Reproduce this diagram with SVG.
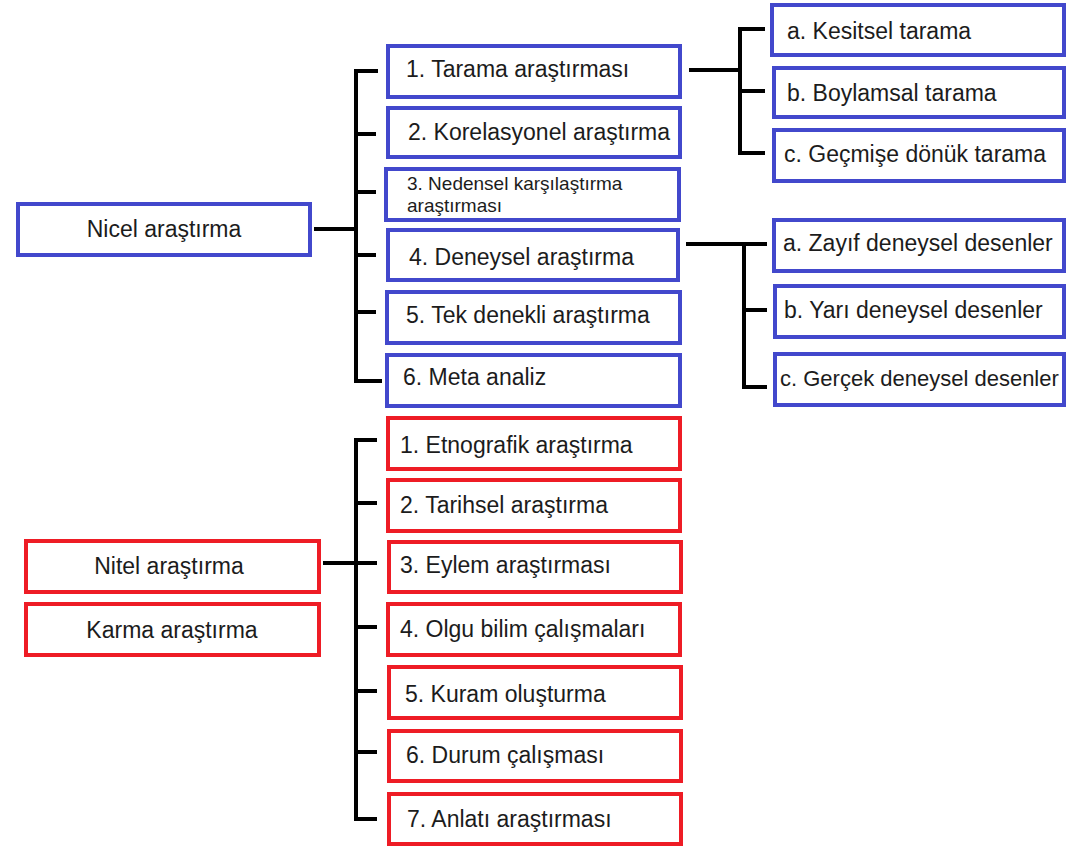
<svg xmlns="http://www.w3.org/2000/svg" width="1067" height="846" viewBox="0 0 1067 846">
<style>
.b{fill:#fff;stroke:#4248CC;stroke-width:4}
.r{fill:#fff;stroke:#EE1C25;stroke-width:4}
text{font-family:"Liberation Sans",Arial,sans-serif;font-size:23px;fill:#1c1c1c}
.c{text-anchor:middle}
.s{font-size:19px}
.con{fill:none;stroke:#000;stroke-width:4}
</style>
<rect width="1067" height="846" fill="#fff"/>
<g id="connectors">
<path class="con" d="M314,229H356M378,71H356V381H382M356,134H376M356,192H376M356,255H376M356,312H376"/>
<path class="con" d="M689,70H740M765,29H740V153H765M740,91H765"/>
<path class="con" d="M686,244H767M744,244V387H767M744,310H767"/>
<path class="con" d="M323,563H356M377,440H356V819H377M356,503H377M356,563H377M356,627H377M356,691H377M356,752H377"/>
</g>
<g id="nicel"><rect class="b" x="18" y="204" width="292" height="51"/><text class="c" x="164" y="237">Nicel araştırma</text></g>
<g id="tarama"><rect class="b" x="388" y="46" width="292" height="51"/><text x="406" y="77">1. Tarama araştırması</text></g>
<g id="korelasyonel"><rect class="b" x="388" y="108" width="292" height="49"/><text x="408" y="140">2. Korelasyonel araştırma</text></g>
<g id="nedensel"><rect class="b" x="386" y="169" width="293" height="51"/><text class="s" x="407" y="190">3. Nedensel karşılaştırma</text><text class="s" x="407" y="212">araştırması</text></g>
<g id="deneysel"><rect class="b" x="388" y="230" width="290" height="50"/><text x="409" y="265">4. Deneysel araştırma</text></g>
<g id="tekdenekli"><rect class="b" x="387" y="292" width="293" height="51"/><text x="406" y="323">5. Tek denekli araştırma</text></g>
<g id="meta"><rect class="b" x="387" y="355" width="293" height="51"/><text x="403" y="385">6. Meta analiz</text></g>
<g id="kesitsel"><rect class="b" x="772" y="5" width="292" height="50"/><text x="787" y="39">a. Kesitsel tarama</text></g>
<g id="boylamsal"><rect class="b" x="774" y="68" width="290" height="49"/><text x="787" y="101">b. Boylamsal tarama</text></g>
<g id="gecmise"><rect class="b" x="774" y="130" width="290" height="51"/><text x="784" y="162">c. Geçmişe dönük tarama</text></g>
<g id="zayif"><rect class="b" x="774" y="220" width="290" height="51"/><text x="783" y="251">a. Zayıf deneysel desenler</text></g>
<g id="yari"><rect class="b" x="775" y="286" width="289" height="51"/><text x="784" y="318">b. Yarı deneysel desenler</text></g>
<g id="gercek"><rect class="b" x="775" y="354" width="289" height="51"/><text x="780" y="386" style="font-size:22px">c. Gerçek deneysel desenler</text></g>
<g id="nitel"><rect class="r" x="26" y="541" width="293" height="51"/><text class="c" x="169" y="574">Nitel araştırma</text></g>
<g id="karma"><rect class="r" x="26" y="604" width="293" height="51"/><text class="c" x="172" y="638">Karma araştırma</text></g>
<g id="etnografik"><rect class="r" x="388" y="418" width="292" height="51"/><text x="400" y="453">1. Etnografik araştırma</text></g>
<g id="tarihsel"><rect class="r" x="388" y="480" width="292" height="51"/><text x="400" y="513">2. Tarihsel araştırma</text></g>
<g id="eylem"><rect class="r" x="389" y="542" width="292" height="50"/><text x="400" y="573">3. Eylem araştırması</text></g>
<g id="olgubilim"><rect class="r" x="388" y="604" width="292" height="51"/><text x="400" y="637">4. Olgu bilim çalışmaları</text></g>
<g id="kuram"><rect class="r" x="389" y="667" width="292" height="51"/><text x="405" y="702">5. Kuram oluşturma</text></g>
<g id="durum"><rect class="r" x="389" y="731" width="292" height="50"/><text x="406" y="763">6. Durum çalışması</text></g>
<g id="anlati"><rect class="r" x="389" y="794" width="292" height="50"/><text x="407" y="827">7. Anlatı araştırması</text></g>
</svg>
